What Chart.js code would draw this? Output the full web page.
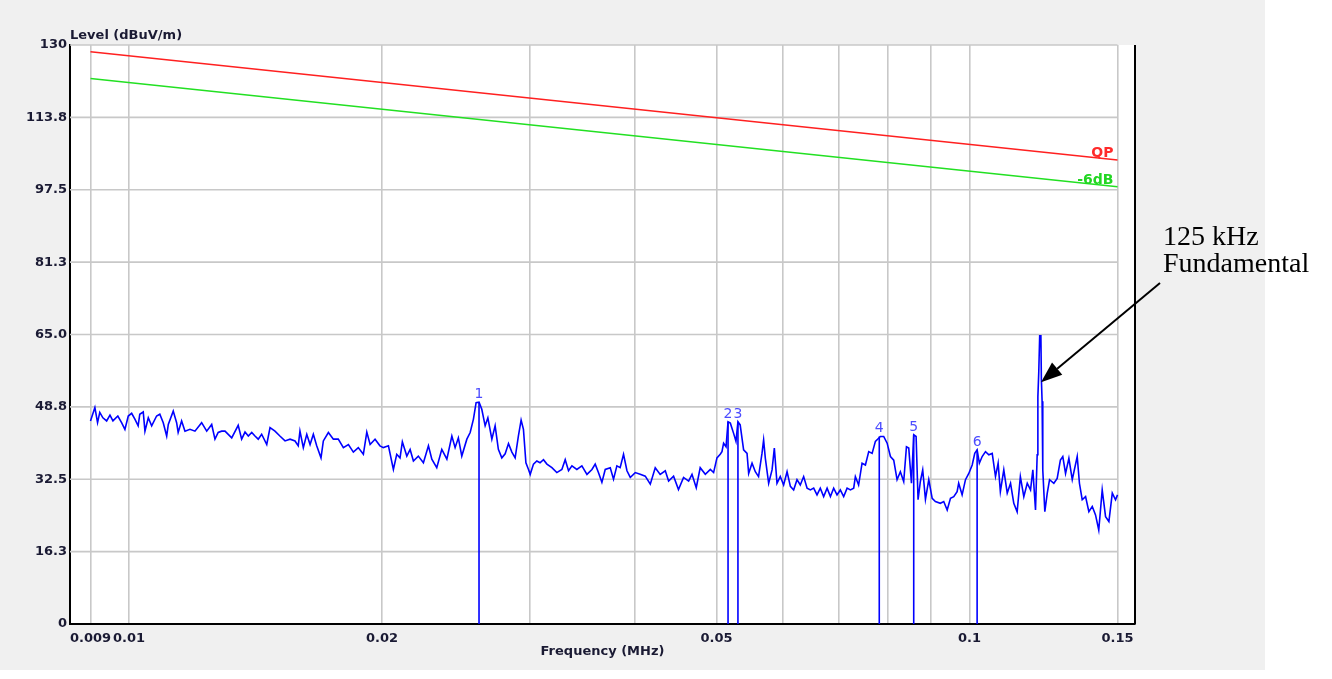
<!DOCTYPE html>
<html>
<head>
<meta charset="utf-8">
<script src="https://cdn.jsdelivr.net/npm/chart.js@4.4.1/dist/chart.umd.min.js"></script>
<style>
html, body { margin: 0; padding: 0; background: #fff; }
canvas { display: block; }
</style>
</head>
<body>
<canvas id="emiChart" width="1332" height="679"></canvas>
<script>
var freqMHz = [
	0.00900, 0.009109, 0.009176, 0.009232, 0.009311, 0.009407, 0.009493, 0.009571, 0.009700, 0.009800,
	0.009890, 0.009981, 0.010074, 0.010164, 0.010255, 0.010301, 0.010399, 0.010448, 0.010544, 0.010642,
	0.010787, 0.010882, 0.010985, 0.011089, 0.011138, 0.011290, 0.011395, 0.011443, 0.011552, 0.011659,
	0.011820, 0.011982, 0.012203, 0.012374, 0.012544, 0.012657, 0.012769, 0.012891, 0.013010, 0.013251,
	0.013489, 0.013617, 0.013743, 0.013868, 0.013998, 0.014123, 0.014249, 0.014384, 0.014586, 0.014718,
	0.014919, 0.015120, 0.015335, 0.015547, 0.015760, 0.015900, 0.015975, 0.016123, 0.016276, 0.016424,
	0.016572, 0.016725, 0.016923, 0.017032, 0.017269, 0.017506, 0.017743, 0.017992, 0.018242, 0.018492,
	0.018743, 0.019005, 0.019185, 0.019360, 0.019624, 0.019889, 0.020076, 0.020356, 0.020635, 0.020825,
	0.021013, 0.021148, 0.021408, 0.021603, 0.021798, 0.022093, 0.022403, 0.022714, 0.022926, 0.023238,
	0.023560, 0.023890, 0.024219, 0.024436, 0.024654, 0.024887, 0.025235, 0.025465, 0.025694, 0.025882,
	0.026091, 0.026289, 0.026532, 0.026730, 0.027024, 0.027267, 0.027510, 0.027771, 0.028027, 0.028284,
	0.028548, 0.028804, 0.029060, 0.029279, 0.029467, 0.029666, 0.029878, 0.030017, 0.030288, 0.030567,
	0.030837, 0.031128, 0.031423, 0.031856, 0.032289, 0.032736, 0.033038, 0.033340, 0.033651, 0.034109,
	0.034581, 0.035065, 0.035548, 0.035867, 0.036186, 0.036530, 0.036866, 0.037377, 0.037714, 0.038062,
	0.038405, 0.038761, 0.039128, 0.039484, 0.040023, 0.040569, 0.041139, 0.041709, 0.042279, 0.042855,
	0.043457, 0.043855, 0.044457, 0.045058, 0.045690, 0.046326, 0.046758, 0.047305, 0.047822, 0.048494,
	0.049165, 0.049609, 0.050066, 0.050517, 0.050758, 0.050985, 0.051328, 0.051609, 0.051936, 0.052404,
	0.052745, 0.053029, 0.053355, 0.053858, 0.054368, 0.054608, 0.055118, 0.055613, 0.056107, 0.056640,
	0.056893, 0.057163, 0.057685, 0.058224, 0.058588, 0.059016, 0.059547, 0.060099, 0.060668, 0.061220,
	0.061772, 0.062341, 0.062904, 0.063487, 0.064088, 0.064671, 0.065254, 0.065855, 0.066448, 0.067064,
	0.067699, 0.068315, 0.068930, 0.069565, 0.070193, 0.070844, 0.071515, 0.072165, 0.072816, 0.073151,
	0.073802, 0.074504, 0.075191, 0.075878, 0.076586, 0.077274, 0.077961, 0.078328, 0.079054, 0.079802,
	0.080528, 0.081254, 0.082002, 0.082742, 0.083509, 0.084137, 0.084671, 0.085299, 0.085833, 0.086392,
	0.086856, 0.087405, 0.087970, 0.088633, 0.089443, 0.090278, 0.091088, 0.092316, 0.093186, 0.094069,
	0.094924, 0.095780, 0.096662, 0.097077, 0.098000, 0.098904, 0.099808, 0.10074, 0.10145, 0.10211,
	0.10274, 0.10353, 0.10448, 0.10544, 0.10642, 0.10738, 0.10816, 0.10882, 0.10985, 0.11089,
	0.11190, 0.11290, 0.11394, 0.11495, 0.11604, 0.11714, 0.11820, 0.11895, 0.11982, 0.12037,
	0.12060, 0.12088, 0.12120, 0.12160, 0.12176, 0.12200, 0.12223, 0.12292, 0.12374, 0.12452,
	0.12599, 0.12715, 0.12827, 0.12912, 0.13010, 0.13129, 0.13251, 0.13432, 0.13514, 0.13617,
	0.13743, 0.13868, 0.13998, 0.14123, 0.14249, 0.14384, 0.14517, 0.14650, 0.14787, 0.14919,
	0.15000
];
var levelDb = [
	45.6, 48.6, 45.2, 47.5, 46.3, 45.6, 46.9, 45.6, 46.7, 45.2,
	43.7, 46.7, 47.3, 46.0, 44.5, 47.1, 47.6, 43.3, 46.3, 44.5,
	46.7, 47.1, 45.2, 42.2, 44.8, 47.8, 45.2, 43.0, 45.6, 43.3,
	43.7, 43.3, 45.2, 43.3, 44.8, 41.5, 43.0, 43.3, 43.3, 41.8,
	44.6, 41.5, 43.1, 42.2, 43.0, 42.2, 41.5, 42.6, 40.3, 44.1,
	43.3, 42.2, 41.1, 41.5, 41.1, 40.0, 43.3, 39.6, 42.6, 40.3,
	42.6, 40.0, 37.3, 41.1, 43.0, 41.5, 41.5, 39.6, 40.3, 38.6,
	39.6, 38.1, 43.1, 40.3, 41.5, 40.0, 39.6, 40.0, 34.7, 38.1,
	37.3, 40.9, 37.7, 39.2, 36.6, 37.7, 36.2, 40.0, 37.0, 35.1,
	39.2, 37.0, 42.2, 39.6, 41.8, 37.7, 41.5, 43.0, 46.0, 49.7,
	49.8, 48.2, 44.5, 46.3, 41.5, 44.5, 39.2, 37.3, 38.2, 40.5,
	38.6, 37.3, 42.2, 45.8, 43.7, 36.2, 34.7, 33.6, 35.9, 36.6,
	36.2, 36.9, 35.9, 35.1, 34.0, 34.7, 36.9, 34.4, 35.5, 34.7,
	35.5, 33.6, 34.7, 35.9, 34.0, 31.8, 34.7, 35.1, 32.5, 35.5,
	35.1, 38.1, 34.4, 32.9, 34.0, 33.6, 33.2, 31.4, 35.1, 33.6,
	34.4, 32.1, 33.2, 30.2, 32.9, 32.1, 33.6, 30.6, 35.1, 33.6,
	34.7, 34.0, 37.3, 38.1, 38.7, 40.6, 39.8, 45.4, 45.1, 42.8,
	41.0, 45.4, 44.7, 39.1, 38.3, 33.8, 36.1, 34.2, 33.1, 38.3,
	41.3, 37.2, 31.6, 34.6, 39.5, 31.6, 33.1, 31.2, 34.2, 30.9,
	30.1, 32.4, 31.2, 33.1, 30.5, 30.1, 30.5, 29.0, 30.5, 28.6,
	30.5, 28.6, 30.5, 29.0, 30.1, 28.6, 30.5, 30.1, 30.5, 33.1,
	31.2, 36.1, 35.7, 38.7, 38.3, 41.0, 41.7, 42.1, 42.1, 40.6,
	37.6, 36.8, 32.4, 34.2, 32.0, 39.8, 39.5, 31.6, 42.5, 42.1,
	27.9, 32.0, 34.6, 28.0, 32.4, 28.2, 27.5, 27.1, 27.5, 25.6,
	28.2, 28.6, 29.7, 31.6, 29.0, 32.4, 33.8, 35.7, 38.3, 39.1,
	36.1, 37.6, 38.7, 38.0, 38.3, 33.1, 36.1, 29.7, 34.6, 29.4,
	31.6, 27.1, 25.2, 33.1, 28.6, 31.6, 30.1, 34.6, 25.6, 38.0,
	51.0, 56.3, 64.7, 64.7, 55.0, 50.0, 34.6, 25.2, 29.4, 32.4,
	31.6, 32.7, 36.8, 37.6, 33.8, 37.2, 32.4, 37.6, 31.6, 27.9,
	28.6, 25.2, 26.4, 24.5, 21.1, 30.1, 24.1, 23.0, 29.4, 27.9,
	29.0
];

// peak markers
var markerFreq = [0.02609, 0.05161, 0.05303, 0.0781, 0.08583, 0.10211];
var markerLevel = [49.8, 45.4, 45.4, 42.1, 42.5, 39.1];
var markerLabels = ['1', '2', '3', '4', '5', '6'];

// limit lines
var limitFreq = [0.009, 0.15];
var qpLevel = [128.5, 104.2];
var sixDbLevel = [122.5, 98.2];

// axes
var yTickValues = [0, 16.25, 32.5, 48.75, 65, 81.25, 97.5, 113.75, 130];
var yTickLabels = ['0', '16.3', '32.5', '48.8', '65.0', '81.3', '97.5', '113.8', '130'];
var xGridFreqs = [0.009, 0.01, 0.02, 0.03, 0.04, 0.05, 0.06, 0.07, 0.08, 0.09, 0.1, 0.15];
var xLabelFreqs = [0.009, 0.01, 0.02, 0.05, 0.1, 0.15];

var tickFont = { family: 'DejaVu Sans', size: 13, weight: 'bold' };
var tickColor = '#1a1a33';

var traceData = freqMHz.map(function(f, i) { return { x: f, y: levelDb[i] }; });
var markerData = [];
markerFreq.forEach(function(f, i) {
	markerData.push({ x: f, y: 0 });
	markerData.push({ x: f, y: markerLevel[i] });
	markerData.push({ x: f, y: null });
});
var qpData = limitFreq.map(function(f, i) { return { x: f, y: qpLevel[i] }; });
var sixDbData = limitFreq.map(function(f, i) { return { x: f, y: sixDbLevel[i] }; });

var decor = {
	id: 'decor',
	beforeDraw: function(chart) {
		var ctx = chart.ctx, a = chart.chartArea;
		ctx.save();
		ctx.fillStyle = '#ffffff';
		ctx.fillRect(0, 0, chart.width, chart.height);
		ctx.fillStyle = '#f0f0f0';
		ctx.fillRect(0, 0, 1265, 670);
		ctx.fillStyle = '#ffffff';
		ctx.fillRect(a.left, a.top, a.right - a.left, a.bottom - a.top);
		ctx.restore();
	},
	beforeDatasetsDraw: function(chart) {
		var ctx = chart.ctx, a = chart.chartArea;
		var xs = chart.scales.x, ys = chart.scales.y;
		var xEnd = xs.getPixelForValue(0.15);
		ctx.save();
		ctx.strokeStyle = '#c8c8c8';
		ctx.lineWidth = 1.6;
		yTickValues.forEach(function(v) {
			if (v === 0) return;
			var y = ys.getPixelForValue(v);
			ctx.beginPath();
			ctx.moveTo(a.left, y);
			ctx.lineTo(xEnd, y);
			ctx.stroke();
		});
		ctx.restore();
	},
	afterDatasetsDraw: function(chart) {
		var ctx = chart.ctx, a = chart.chartArea;
		var xs = chart.scales.x, ys = chart.scales.y;
		ctx.save();
		// right frame
		ctx.strokeStyle = '#000';
		ctx.lineWidth = 2;
		ctx.beginPath();
		ctx.moveTo(a.right, a.top);
		ctx.lineTo(a.right, a.bottom);
		ctx.stroke();

		// y title
		ctx.fillStyle = tickColor;
		ctx.font = 'bold 13px "DejaVu Sans"';
		ctx.textAlign = 'left';
		ctx.textBaseline = 'middle';
		ctx.fillText('Level (dBuV/m)', a.left, 36);

		// marker numbers
		ctx.fillStyle = '#4c4cff';
		ctx.font = '14px "DejaVu Sans"';
		ctx.textAlign = 'center';
		ctx.textBaseline = 'alphabetic';
		markerFreq.forEach(function(f, i) {
			ctx.fillText(markerLabels[i], xs.getPixelForValue(f), ys.getPixelForValue(markerLevel[i]) - 4);
		});

		// limit names
		var xr = xs.getPixelForValue(0.15) - 4;
		ctx.font = 'bold 14px "DejaVu Sans"';
		ctx.textAlign = 'right';
		ctx.fillStyle = '#ff2a2a';
		ctx.fillText('QP', xr, ys.getPixelForValue(qpLevel[1]) - 3);
		ctx.fillStyle = '#22d622';
		ctx.fillText('-6dB', xr, ys.getPixelForValue(sixDbLevel[1]) - 3);

		// annotation
		ctx.fillStyle = '#000';
		ctx.font = '28px "Liberation Serif"';
		ctx.textAlign = 'left';
		ctx.fillText('125 kHz', 1163, 245);
		ctx.fillText('Fundamental', 1163, 272);

		var tx = xs.getPixelForValue(0.12165), ty = ys.getPixelForValue(54.3);
		var sx = 1160, sy = 283;
		var ang = Math.atan2(ty - sy, tx - sx);
		var hl = 21, hw = 8;
		var bx = tx - hl * Math.cos(ang), by = ty - hl * Math.sin(ang);
		ctx.strokeStyle = '#000';
		ctx.lineWidth = 2;
		ctx.beginPath();
		ctx.moveTo(sx, sy);
		ctx.lineTo(bx, by);
		ctx.stroke();
		ctx.beginPath();
		ctx.moveTo(tx, ty);
		ctx.lineTo(bx + hw * Math.sin(ang), by - hw * Math.cos(ang));
		ctx.lineTo(bx - hw * Math.sin(ang), by + hw * Math.cos(ang));
		ctx.closePath();
		ctx.fill();
		ctx.restore();
	}
};

var emiChart = new Chart(document.getElementById('emiChart').getContext('2d'), {
	type: 'line',
	data: {
		datasets: [{
			label: 'QP',
			data: qpData,
			borderColor: '#ff2020',
			borderWidth: 1.5,
			pointRadius: 0
		}, {
			label: '-6dB',
			data: sixDbData,
			borderColor: '#22e022',
			borderWidth: 1.5,
			pointRadius: 0
		}, {
			label: 'Markers',
			data: markerData,
			borderColor: '#0000ff',
			borderWidth: 1.6,
			pointRadius: 0,
			spanGaps: false
		}, {
			label: 'Level',
			data: traceData,
			borderColor: '#0000ff',
			borderWidth: 1.6,
			pointRadius: 0,
			tension: 0
		}]
	},
	options: {
		responsive: false,
		animation: false,
		devicePixelRatio: 1,
		layout: { padding: { left: 0, top: 45, right: 197, bottom: 15 } },
		plugins: { legend: { display: false }, tooltip: { enabled: false } },
		scales: {
			x: {
				type: 'logarithmic',
				min: 0.0085087,
				max: 0.15736,
				afterFit: function(scale) { scale.height = 40; },
				afterBuildTicks: function(scale) {
					scale.ticks = xGridFreqs.map(function(v) { return { value: v }; });
				},
				grid: { color: '#c8c8c8', lineWidth: 1.6, drawTicks: false },
				border: { color: '#000', width: 2 },
				ticks: {
					autoSkip: false,
					maxRotation: 0,
					padding: 7,
					font: tickFont,
					color: tickColor,
					callback: function(value) {
						return xLabelFreqs.indexOf(value) >= 0 ? String(value) : '';
					}
				},
				title: {
					display: true,
					text: 'Frequency (MHz)',
					font: tickFont,
					color: tickColor,
					padding: { top: 0, bottom: 5 }
				}
			},
			y: {
				min: 0,
				max: 130,
				afterFit: function(scale) { scale.width = 70; },
				afterBuildTicks: function(scale) {
					scale.ticks = yTickValues.map(function(v) { return { value: v }; });
				},
				grid: { display: false, drawTicks: false },
				border: { color: '#000', width: 2 },
				ticks: {
					padding: 3,
					font: tickFont,
					color: tickColor,
					callback: function(value) {
						var i = yTickValues.indexOf(value);
						return i >= 0 ? yTickLabels[i] : '';
					}
				}
			}
		}
	},
	plugins: [decor]
});
</script>
</body>
</html>
